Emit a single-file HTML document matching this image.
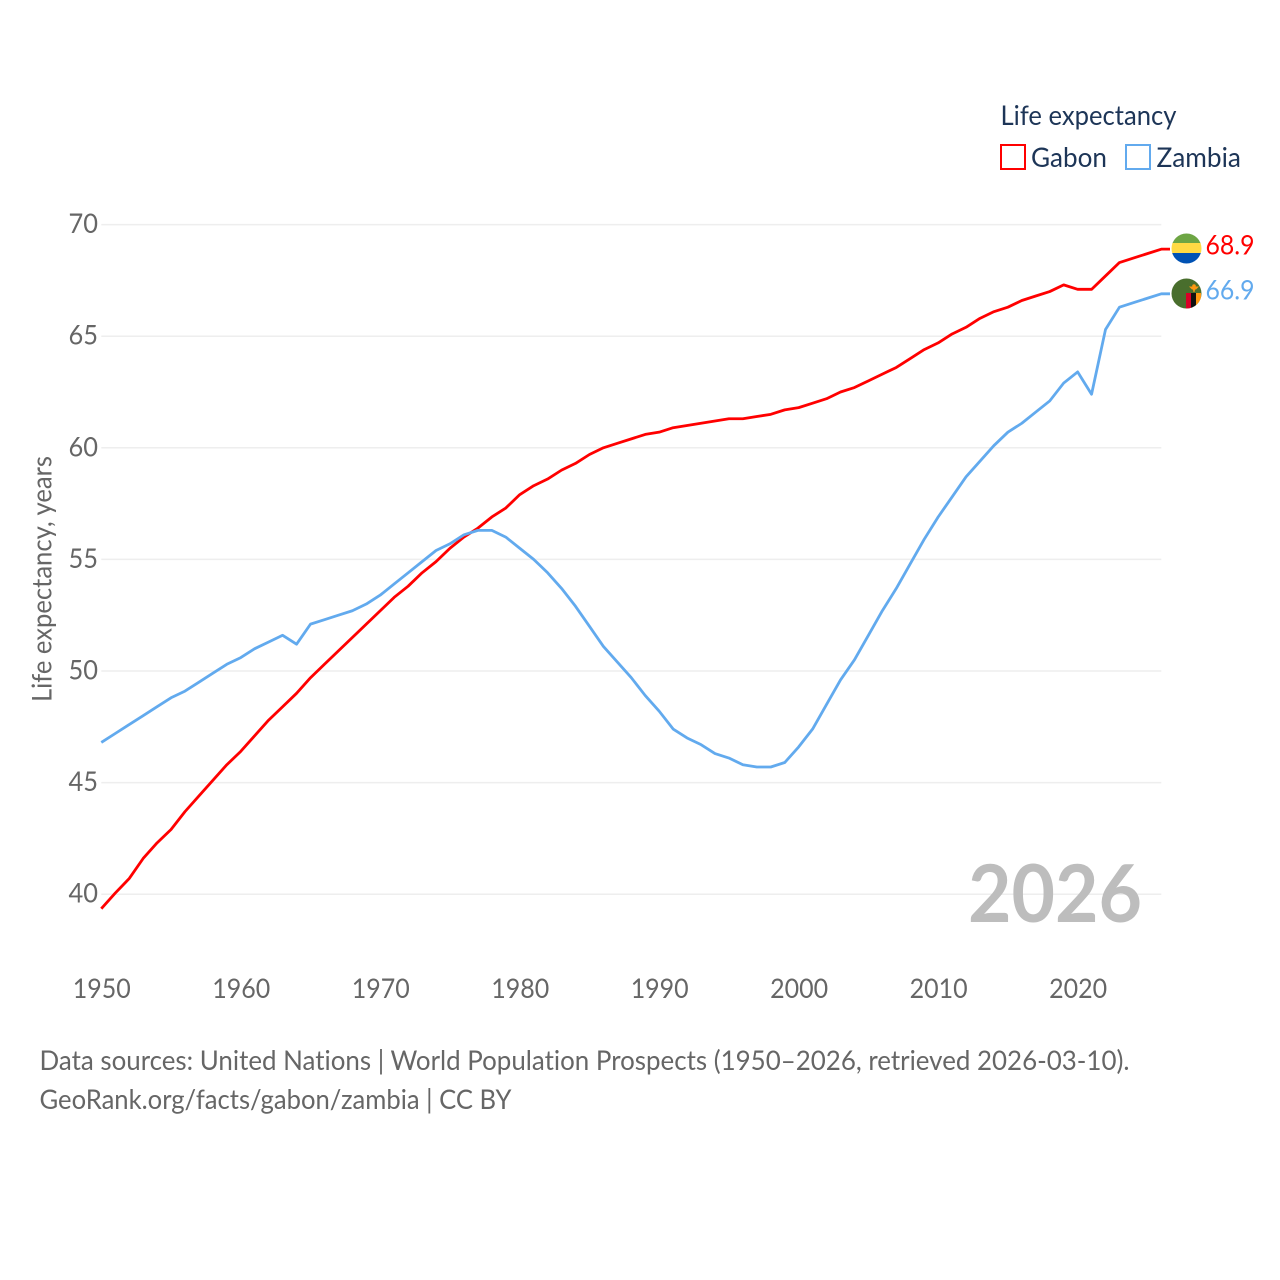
<!DOCTYPE html>
<html lang="en">
<head>
<meta charset="utf-8">
<title>Life expectancy: Gabon and Zambia</title>
<style>
html,body{margin:0;padding:0;background:#fff;}
svg{display:block;}
text{font-family:"Lato","Carlito","Liberation Sans",sans-serif;font-variant-ligatures:none;}
</style>
</head>
<body>
<svg id="chart" xmlns="http://www.w3.org/2000/svg" width="1280" height="1280" viewBox="0 0 1280 1280">
  <rect width="1280" height="1280" fill="#fff"/>
  <g id="grid"></g>
  <g id="yticks"></g>
  <g id="xticks"></g>
  <text transform="translate(51.500 702) rotate(-90)" font-size="27.500" fill="#666" textLength="246" lengthAdjust="spacingAndGlyphs">Life expectancy, years</text>
  <text x="968" y="922" font-size="80" font-weight="700" fill="#bdbdbd" textLength="174" lengthAdjust="spacingAndGlyphs">2026</text>
  <g id="series"></g>

  <g>
    <clipPath id="gabon-clip"><circle cx="1186.500" cy="248.500" r="15"/></clipPath>
    <g clip-path="url(#gabon-clip)">
      <rect x="1171" y="233" width="31" height="11" fill="#6da544"/>
      <rect x="1171" y="243" width="31" height="11" fill="#ffda44"/>
      <rect x="1171" y="253" width="31" height="11" fill="#0052b4"/>
    </g>
  </g>
  <text x="1205.500" y="254.500" font-size="27.500" fill="#ff0000" textLength="49" lengthAdjust="spacingAndGlyphs">68.9</text>

  <g>
    <clipPath id="zambia-clip"><circle cx="1186.500" cy="293.500" r="15"/></clipPath>
    <g clip-path="url(#zambia-clip)">
      <rect x="1171" y="278" width="31" height="31" fill="#496e2d"/>
      <rect x="1186" y="293" width="5" height="16" fill="#d80027"/>
      <rect x="1191" y="293" width="5" height="16" fill="#111"/>
      <rect x="1196" y="293" width="5" height="16" fill="#ff9811"/>
      <path d="M1189 286.500h10l-3 3h-1l-.5 2.500h-1l-.5-2.500h-1z" fill="#ff9811"/>
      <circle cx="1194" cy="286" r="1.800" fill="#ff9811"/>
    </g>
  </g>
  <text x="1205.500" y="299.500" font-size="27.500" fill="#62aaee" textLength="49" lengthAdjust="spacingAndGlyphs">66.9</text>

  <g>
    <text x="1000.500" y="125" font-size="27.500" fill="#1d3557" textLength="176" lengthAdjust="spacingAndGlyphs">Life expectancy</text>
    <rect x="1001" y="145" width="24" height="24" fill="#fff" stroke="#ff0000" stroke-width="2"/>
    <text x="1031" y="167" font-size="27.500" fill="#1d3557" textLength="76" lengthAdjust="spacingAndGlyphs">Gabon</text>
    <rect x="1126" y="145" width="24" height="24" fill="#fff" stroke="#62aaee" stroke-width="2"/>
    <text x="1156.500" y="167" font-size="27.500" fill="#1d3557" textLength="84.500" lengthAdjust="spacingAndGlyphs">Zambia</text>
  </g>

  <text x="39.500" y="1070" font-size="27.500" fill="#666" textLength="1090" lengthAdjust="spacingAndGlyphs">Data sources: United Nations | World Population Prospects (1950–2026, retrieved 2026-03-10).</text>
  <text x="39.500" y="1109" font-size="27.500" fill="#666" textLength="472" lengthAdjust="spacingAndGlyphs">GeoRank.org/facts/gabon/zambia | CC BY</text>
</svg>
<script>
const startYear = 1950;
const yTickValues = [40, 45, 50, 55, 60, 65, 70];
const xTickValues = [1950, 1960, 1970, 1980, 1990, 2000, 2010, 2020];
const gabonValues = [39.35,40.05,40.7,41.6,42.3,42.9,43.7,44.4,45.1,45.8,46.4,47.1,47.8,48.4,49.0,49.7,50.3,50.9,51.5,52.1,52.7,53.3,53.8,54.4,54.9,55.5,56.0,56.4,56.9,57.3,57.9,58.3,58.6,59.0,59.3,59.7,60.0,60.2,60.4,60.6,60.7,60.9,61.0,61.1,61.2,61.3,61.3,61.4,61.5,61.7,61.8,62.0,62.2,62.5,62.7,63.0,63.3,63.6,64.0,64.4,64.7,65.1,65.4,65.8,66.1,66.3,66.6,66.8,67.0,67.3,67.1,67.1,67.7,68.3,68.5,68.7,68.9];
const zambiaValues = [46.8,47.2,47.6,48.0,48.4,48.8,49.1,49.5,49.9,50.3,50.6,51.0,51.3,51.6,51.2,52.1,52.3,52.5,52.7,53.0,53.4,53.9,54.4,54.9,55.4,55.7,56.1,56.3,56.3,56.0,55.5,55.0,54.4,53.7,52.9,52.0,51.1,50.4,49.7,48.9,48.2,47.4,47.0,46.7,46.3,46.1,45.8,45.7,45.7,45.9,46.6,47.4,48.5,49.6,50.5,51.6,52.7,53.7,54.8,55.9,56.9,57.8,58.7,59.4,60.1,60.7,61.1,61.6,62.1,62.9,63.4,62.4,65.3,66.3,66.5,66.7,66.9];

const NS = 'http://www.w3.org/2000/svg';
const xScale = year => 101.3 + (year - 1950) * (1161.3 - 101.3) / 76;
const yScale = value => 894.2 - (value - 40) * (894.2 - 224.6) / 30;

const grid = document.getElementById('grid');
const yticks = document.getElementById('yticks');
const xticks = document.getElementById('xticks');
const seriesGroup = document.getElementById('series');

yTickValues.forEach(v => {
  const line = document.createElementNS(NS, 'line');
  
  
  line.setAttribute('x1', xScale(1950));
  line.setAttribute('x2', xScale(2026));
  line.setAttribute('y1', yScale(v));
  line.setAttribute('y2', yScale(v));
  line.setAttribute('stroke', '#eeeeee');
  line.setAttribute('stroke-width', '1.500');
  grid.appendChild(line);

  const label = document.createElementNS(NS, 'text');
  
  
  label.setAttribute('x', 98);
  label.setAttribute('y', yScale(v) + 8.5);
  label.setAttribute('text-anchor', 'end');
  label.setAttribute('font-size', '27.5');
  label.setAttribute('fill', '#666');
  label.setAttribute('textLength', '29.5');
  label.setAttribute('lengthAdjust', 'spacingAndGlyphs');
  label.textContent = v;
  yticks.appendChild(label);
});

xTickValues.forEach(y => {
  const label = document.createElementNS(NS, 'text');
  
  
  label.setAttribute('x', xScale(y) + 0.5);
  label.setAttribute('y', 998);
  label.setAttribute('text-anchor', 'middle');
  label.setAttribute('font-size', '27.5');
  label.setAttribute('fill', '#666');
  label.setAttribute('textLength', '58');
  label.setAttribute('lengthAdjust', 'spacingAndGlyphs');
  label.textContent = y;
  xticks.appendChild(label);
});

function drawSeries(values, color, name) {
  const pts = values.map((v, i) => xScale(startYear + i).toFixed(2) + ',' + yScale(v).toFixed(2));
  const last = values[values.length - 1];
  pts.push('1170,' + yScale(last).toFixed(2));
  const line = document.createElementNS(NS, 'polyline');
  
  
  line.setAttribute('points', pts.join(' '));
  line.setAttribute('fill', 'none');
  line.setAttribute('stroke', color);
  line.setAttribute('stroke-width', '2.8');
  line.setAttribute('stroke-linejoin', 'round');
  seriesGroup.appendChild(line);
}
drawSeries(gabonValues, '#ff0000', 'gabon-line');
drawSeries(zambiaValues, '#62aaee', 'zambia-line');
</script>
</body>
</html>
